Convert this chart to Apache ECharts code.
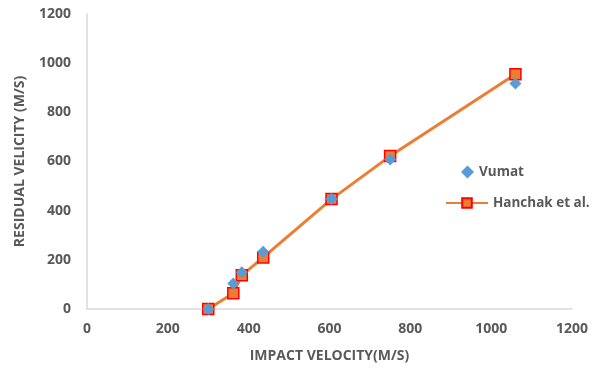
<!DOCTYPE html>
<html lang="en">
<head>
    <meta charset="UTF-8">
    <title>Residual velocity</title>
    <script type="text/javascript" src="https://cdn.jsdelivr.net/npm/echarts@6/dist/echarts.min.js"></script>
</head>
<style>
    html, body { margin: 0; padding: 0; background: #fff; }
    #container { width: 596px; height: 368px; }
</style>
<body>
<div id="container"></div>
<script>
    // impact velocity (x) and residual velocity (y)
    var vumatX = [300, 362, 383, 436, 605, 750, 1060];
    var vumatY = [0, 104, 150, 233, 447, 608, 917];
    var hanchakX = [300, 362, 383, 436, 605, 750, 1060];
    var hanchakY = [0, 64, 137, 210, 447, 622, 955];

    function pairs(xs, ys) {
        return xs.map(function (x, i) { return [x, ys[i]]; });
    }

    // plain numbers, no thousands separator
    function plain(v) {
        return String(v);
    }

    var chart = echarts.init(document.getElementById('container'));

    var labelStyle = {
        color: '#595959',
        fontFamily: 'Open Sans',
        fontWeight: 'bold',
        fontSize: 14
    };
    var legendText = {
        color: '#595959',
        fontFamily: 'Open Sans',
        fontWeight: 'bold',
        fontSize: 13.5
    };

    var option = {
        animation: false,
        grid: { left: 87, right: 24, top: 14, bottom: 59 },
        legend: [
            {
                orient: 'vertical',
                left: 456,
                top: 160,
                itemWidth: 13,
                itemHeight: 13,
                itemGap: 10,
                textStyle: legendText,
                data: ['Vumat']
            },
            {
                orient: 'vertical',
                left: 440,
                top: 191,
                itemWidth: 42,
                itemHeight: 12,
                itemGap: 5,
                textStyle: legendText,
                data: ['Hanchak et al.']
            }
        ],
        xAxis: {
            type: 'value',
            min: 0,
            max: 1200,
            interval: 200,
            name: 'IMPACT VELOCITY(M/S)',
            nameLocation: 'middle',
            nameGap: 40,
            nameTextStyle: labelStyle,
            axisLine: { show: true, lineStyle: { color: '#d9d9d9', width: 1.5 } },
            axisTick: { show: false },
            splitLine: { show: false },
            axisLabel: Object.assign({ margin: 13, formatter: plain }, labelStyle)
        },
        yAxis: {
            type: 'value',
            min: 0,
            max: 1200,
            interval: 200,
            name: 'RESIDUAL VELICITY (M/S)',
            nameLocation: 'middle',
            nameGap: 60,
            nameTextStyle: labelStyle,
            axisLine: { show: true, lineStyle: { color: '#d9d9d9', width: 1.5 } },
            axisTick: { show: false },
            splitLine: { show: false },
            axisLabel: Object.assign({ margin: 16, formatter: plain }, labelStyle)
        },
        series: [
            {
                name: 'Hanchak et al.',
                type: 'line',
                data: pairs(hanchakX, hanchakY),
                symbol: 'rect',
                symbolSize: 11,
                lineStyle: { color: '#ed7d31', width: 3 },
                itemStyle: { color: '#ed7d31', borderColor: '#ff0000', borderWidth: 1.5 },
                z: 2
            },
            {
                name: 'Vumat',
                type: 'scatter',
                data: pairs(vumatX, vumatY),
                symbol: 'diamond',
                symbolSize: 12,
                itemStyle: { color: '#5b9bd5', opacity: 1 },
                z: 3
            }
        ]
    };

    chart.setOption(option);
</script>
</body>
</html>
